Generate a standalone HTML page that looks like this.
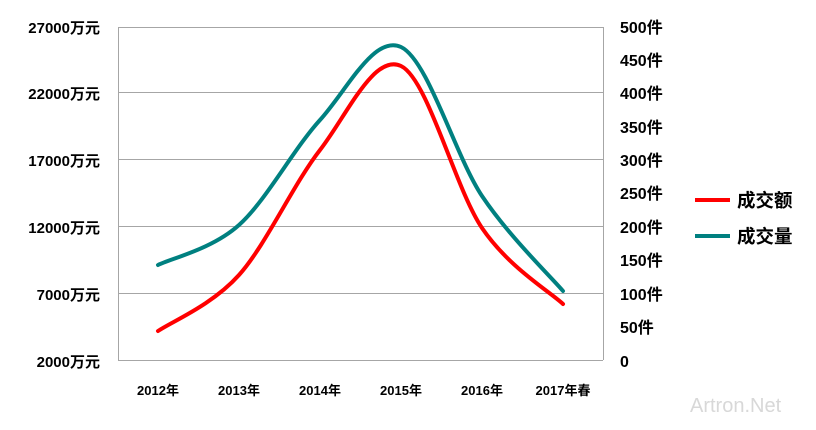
<!DOCTYPE html>
<html><head><meta charset="utf-8"><style>
html,body{margin:0;padding:0;background:#fff;}
svg text{font-family:"Liberation Sans","Noto Sans CJK SC",sans-serif;font-weight:bold;fill:#000;}
</style></head><body>
<svg width="816" height="425" viewBox="0 0 816 425" xmlns="http://www.w3.org/2000/svg">
<rect width="816" height="425" fill="#fff"/>
<g stroke="#a6a6a6" stroke-width="1">
<line x1="118" y1="27.5" x2="603" y2="27.5"/>
<line x1="118" y1="92.5" x2="603" y2="92.5"/>
<line x1="118" y1="159.5" x2="603" y2="159.5"/>
<line x1="118" y1="226.5" x2="603" y2="226.5"/>
<line x1="118" y1="293.5" x2="603" y2="293.5"/>
<line x1="118" y1="360.5" x2="603" y2="360.5"/>
<line x1="118.5" y1="27" x2="118.5" y2="360"/>
<line x1="603.5" y1="27" x2="603.5" y2="360"/>
</g>
<g font-size="15" text-anchor="end">
<text x="100" y="33">27000万元</text>
<text x="100" y="99">22000万元</text>
<text x="100" y="166">17000万元</text>
<text x="100" y="233">12000万元</text>
<text x="100" y="300">7000万元</text>
<text x="100" y="367">2000万元</text>
</g>
<g font-size="16">
<text x="620" y="33">500件</text>
<text x="620" y="66">450件</text>
<text x="620" y="99">400件</text>
<text x="620" y="133">350件</text>
<text x="620" y="166">300件</text>
<text x="620" y="199">250件</text>
<text x="620" y="233">200件</text>
<text x="620" y="266">150件</text>
<text x="620" y="300">100件</text>
<text x="620" y="333">50件</text>
<text x="620" y="367">0</text>
</g>
<g font-size="13" text-anchor="middle">
<text x="158" y="395">2012年</text>
<text x="239" y="395">2013年</text>
<text x="320" y="395">2014年</text>
<text x="401" y="395">2015年</text>
<text x="482" y="395">2016年</text>
<text x="563" y="395">2017年春</text>
</g>
<path d="M158,331 C171.5,321.7 212,305.2 239,275 C266,244.8 293,184.8 320,150 C347,115.2 374,53 401,66 C428,79 455,188.3 482,228 C509,267.7 549.5,291.3 563,304" fill="none" stroke="#ff0000" stroke-width="4" stroke-linecap="round"/>
<path d="M158,265 C171.5,258.3 212,249.2 239,225 C266,200.8 293,149.7 320,120 C347,90.3 374,34.3 401,47 C428,59.7 455,155.3 482,196 C509,236.3 549.5,275.2 563,291" fill="none" stroke="#008080" stroke-width="4" stroke-linecap="round"/>
<line x1="695" y1="200" x2="730" y2="200" stroke="#ff0000" stroke-width="4"/>
<line x1="695" y1="236" x2="730" y2="236" stroke="#008080" stroke-width="4"/>
<text x="737" y="207" font-size="18.5">成交额</text>
<text x="737" y="243" font-size="18.5">成交量</text>
<text x="690" y="412" font-size="20" style="fill:#d8d8d8;font-weight:normal">Artron.Net</text>
</svg>
</body></html>
